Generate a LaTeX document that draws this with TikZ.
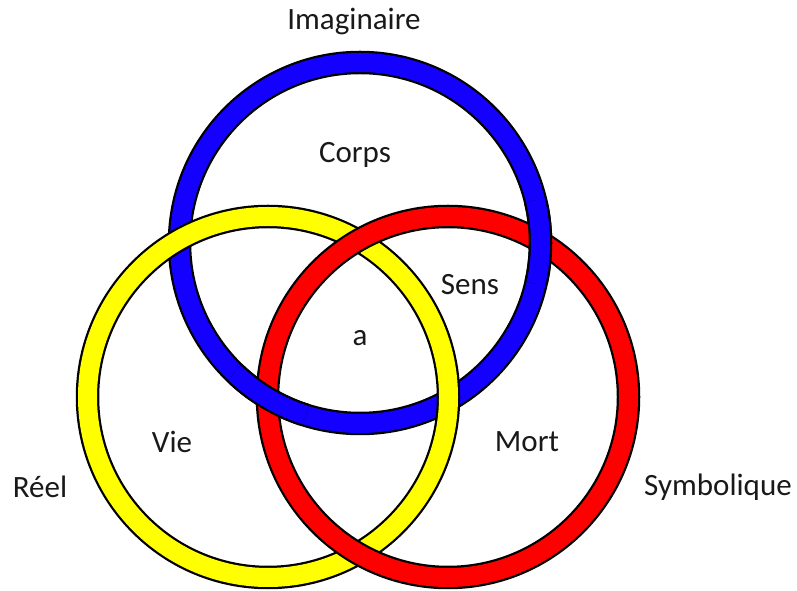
\documentclass[tikz,border=0pt]{standalone}
\usepackage{fontspec}
\setmainfont{Carlito}
\begin{document}
\begin{tikzpicture}[x=1pt,y=1pt,
  ringedge/.style={draw=black,line width=23.5pt},
  ringfill/.style={line width=19pt},
  lbl/.style={font=\fontsize{31}{37}\selectfont,text=black!90,inner sep=0pt}]
\useasboundingbox (0,0) rectangle (797,591);
\definecolor{ringblue}{RGB}{20,0,255}
\definecolor{ringyellow}{RGB}{255,255,0}
\definecolor{ringred}{RGB}{255,0,0}
\def\rr{180.5}
% ring centres
\coordinate (cI) at (360,348);
\coordinate (cR) at (268,194);
\coordinate (cS) at (448,194);
% Imaginaire ring (blue)
\draw[ringedge] (cI) circle (\rr);
\draw[ringfill,ringblue] (cI) circle (\rr);
% Reel ring (yellow), passes over the blue one
\draw[ringedge] (cR) circle (\rr);
\draw[ringfill,ringyellow] (cR) circle (\rr);
% Symbolique ring (red), passes over the yellow one
\draw[ringedge] (cS) circle (\rr);
\draw[ringfill,ringred] (cS) circle (\rr);
% blue passes over red at both of their crossings
\begin{scope}
  \clip (540.5,349) circle (42) (267.5,193) circle (42);
  \draw[ringedge] (cI) circle (\rr);
  \draw[ringfill,ringblue] (cI) circle (\rr);
\end{scope}
% labels
\node[lbl] (imag) at (354,569) {Imaginaire};
\node[lbl] (reel) at (40,104) {Réel};
\node[lbl] (symb) at (718,104) {Symbolique};
\node[lbl] (corps) at (355,436) {Corps};
\node[lbl] (sens) at (470,306) {Sens};
\node[lbl] (a) at (360,253) {a};
\node[lbl] (vie) at (172,149) {Vie};
\node[lbl] (mort) at (527,149) {Mort};
\end{tikzpicture}
\end{document}
